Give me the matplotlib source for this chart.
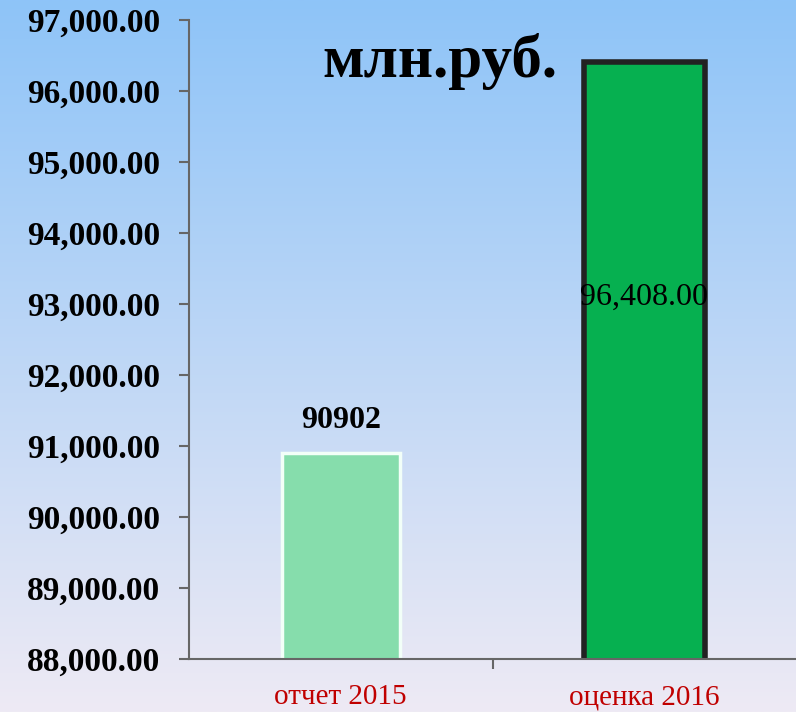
import numpy as np
import matplotlib.pyplot as plt
from matplotlib.ticker import FixedLocator, FuncFormatter

categories = ['отчет 2015', 'оценка 2016']
values = [90902, 96408]
value_labels = ['90902', '96,408.00']
y_ticks = [88000, 89000, 90000, 91000, 92000, 93000, 94000, 95000, 96000, 97000]

fig = plt.figure(figsize=(7.96, 7.12), dpi=100)

# background gradient
bg = fig.add_axes([0, 0, 1, 1], zorder=0)
top = np.array([0x8E, 0xC4, 0xF8]) / 255
bot = np.array([0xEE, 0xEA, 0xF4]) / 255
t = np.linspace(0, 1, 256)[:, None]
grad = top * (1 - t) + bot * t
bg.imshow(grad[:, None, :], aspect='auto', extent=[0, 1, 0, 1])
bg.axis('off')

ax = fig.add_axes([189 / 796, 1 - 659 / 712, 1 - 189 / 796, 639 / 712], zorder=1)
ax.patch.set_alpha(0)

x = np.arange(len(categories))
ax.bar(x[0], values[0], width=0.39, color='#86DDAC',
       edgecolor='#F2FFF8', linewidth=2.5, zorder=2)
ax.bar(x[1], values[1], width=0.40, color='#06B050',
       edgecolor='#222222', linewidth=4, zorder=2)

ax.set_ylim(88000, 97000)
ax.set_xlim(-0.5, 1.5)

ax.yaxis.set_major_locator(FixedLocator(y_ticks))
ax.yaxis.set_major_formatter(FuncFormatter(lambda v, p: '{:,.2f}'.format(v)))
ax.tick_params(axis='y', length=7, width=1.5, color='#666666', labelsize=24, pad=14)
for lab in ax.get_yticklabels():
    lab.set_fontfamily('Liberation Serif')
    lab.set_fontweight('bold')

ax.set_xticks(x)
ax.set_xticklabels(categories, color='#C00000', fontsize=21, family='Liberation Serif')
ax.tick_params(axis='x', length=0, pad=18)
ax.xaxis.set_minor_locator(FixedLocator([0.5]))
ax.tick_params(axis='x', which='minor', length=7, width=1.5, color='#666666')

for s in ['top', 'right']:
    ax.spines[s].set_visible(False)
for s in ['left', 'bottom']:
    ax.spines[s].set_color('#666666')
    ax.spines[s].set_linewidth(1.5)

ax.text(x[0], values[0] + 250, value_labels[0], ha='center', va='bottom',
        fontsize=23, fontweight='bold', family='Liberation Serif')
ax.text(x[1], 93100, value_labels[1], ha='center', va='center',
        fontsize=23, family='Liberation Serif')

fig.text(440 / 796, 1 - 62 / 712, 'млн.руб.', ha='center', va='center',
         fontsize=44, fontweight='bold', family='Liberation Serif')

fig.savefig('out.png', dpi=100)
